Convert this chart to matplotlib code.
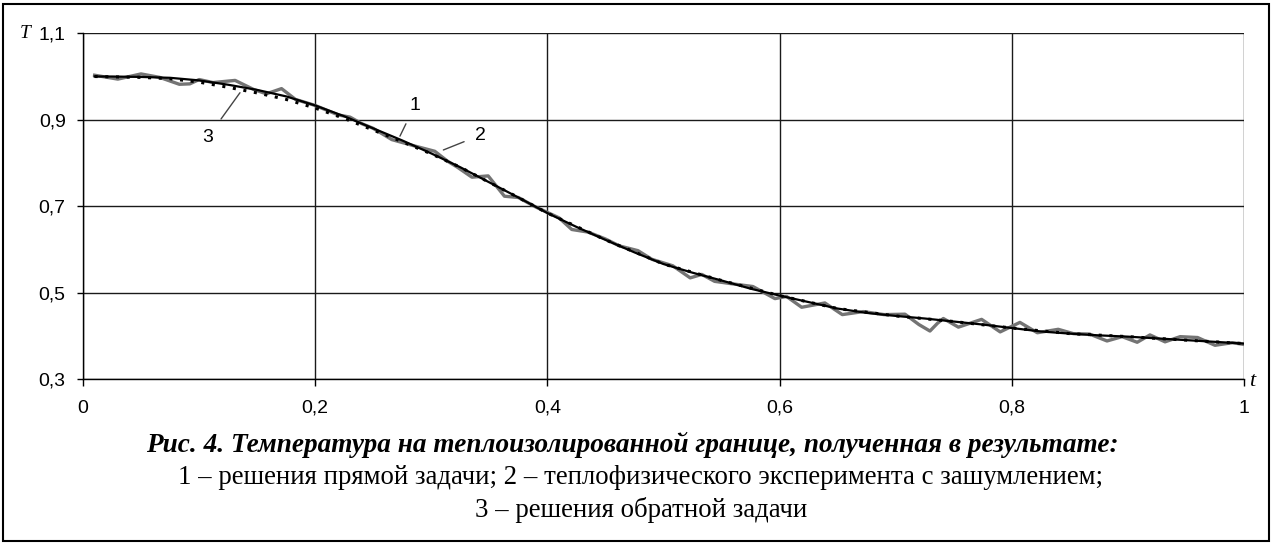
import matplotlib
matplotlib.use("Agg")
import matplotlib.pyplot as plt
from matplotlib.patches import Rectangle

# ---- data ----
t1 = [0.01, 0.025, 0.05, 0.075, 0.1, 0.125, 0.15, 0.175, 0.2, 0.225, 0.25, 0.275, 0.3,
      0.325, 0.35, 0.375, 0.4, 0.425, 0.45, 0.475, 0.5, 0.525, 0.55, 0.575, 0.6, 0.625,
      0.65, 0.675, 0.7, 0.725, 0.75, 0.775, 0.8, 0.825, 0.85, 0.875, 0.9, 0.925, 0.95,
      0.975, 1.0]
T1 = [1.000, 1.000, 0.999, 0.997, 0.991, 0.981, 0.969, 0.954, 0.933, 0.908, 0.880, 0.852,
      0.822, 0.790, 0.755, 0.720, 0.684, 0.652, 0.622, 0.593, 0.566, 0.546, 0.528, 0.509,
      0.493, 0.478, 0.463, 0.453, 0.446, 0.440, 0.433, 0.426, 0.418, 0.410, 0.405, 0.401,
      0.398, 0.394, 0.390, 0.386, 0.382]

t2 = [0.01, 0.03, 0.05, 0.066, 0.083, 0.092, 0.10, 0.112, 0.131, 0.147, 0.158, 0.171,
      0.183, 0.2, 0.22, 0.23, 0.24, 0.25, 0.266, 0.286, 0.303, 0.314, 0.322, 0.335, 0.349,
      0.363, 0.375, 0.39, 0.41, 0.421, 0.435, 0.45, 0.462, 0.478, 0.49, 0.508, 0.523,
      0.533, 0.544, 0.56, 0.577, 0.596, 0.606, 0.619, 0.639, 0.654, 0.672, 0.69, 0.708,
      0.72, 0.7295, 0.736, 0.741, 0.754, 0.774, 0.79, 0.807, 0.822, 0.84, 0.853, 0.867,
      0.882, 0.895, 0.908, 0.919, 0.932, 0.945, 0.96, 0.975, 0.99, 1.0]
T2 = [1.003, 0.994, 1.006, 0.998, 0.982, 0.983, 0.993, 0.986, 0.991, 0.970, 0.960, 0.972,
      0.947, 0.933, 0.911, 0.906, 0.891, 0.880, 0.854, 0.839, 0.827, 0.804, 0.791, 0.767,
      0.770, 0.723, 0.720, 0.698, 0.673, 0.646, 0.640, 0.624, 0.608, 0.597, 0.577, 0.562,
      0.534, 0.542, 0.526, 0.520, 0.514, 0.486, 0.491, 0.466, 0.476, 0.449, 0.456, 0.449,
      0.450, 0.426, 0.411, 0.429, 0.440, 0.420, 0.438, 0.409, 0.431, 0.407, 0.415, 0.405,
      0.404, 0.388, 0.398, 0.385, 0.402, 0.386, 0.398, 0.396, 0.378, 0.384, 0.380]

t3 = [0.01, 0.05, 0.075, 0.1, 0.125, 0.15, 0.175, 0.2, 0.225, 0.25, 0.275, 0.3, 0.325,
      0.35, 0.375, 0.4, 0.45, 0.5, 0.55, 0.6, 0.65, 0.7, 0.75, 0.8, 0.85, 0.9, 0.95, 1.0]
T3 = [1.000, 0.998, 0.995, 0.987, 0.975, 0.962, 0.947, 0.927, 0.903, 0.876, 0.849, 0.821,
      0.790, 0.755, 0.720, 0.684, 0.622, 0.566, 0.528, 0.493, 0.463, 0.446, 0.433, 0.418,
      0.405, 0.398, 0.390, 0.382]

xticks = [0, 0.2, 0.4, 0.6, 0.8, 1.0]
xticklabels = ["0", "0,2", "0,4", "0,6", "0,8", "1"]
yticks = [0.3, 0.5, 0.7, 0.9, 1.1]
yticklabels = ["0,3", "0,5", "0,7", "0,9", "1,1"]

caption1 = "Рис. 4. Температура на теплоизолированной границе, полученная в результате:"
caption2 = "1 – решения прямой задачи; 2 – теплофизического эксперимента с зашумлением;"
caption3 = "3 – решения обратной задачи"

# ---- figure ----
W, H = 1273, 545
fig = plt.figure(figsize=(W / 100, H / 100), dpi=100)
fig.patch.set_facecolor("white")
fig.patches.append(Rectangle((3 / W, 4 / H), 1266 / W, 537 / H, transform=fig.transFigure,
                             fill=False, edgecolor="black", linewidth=1.5))

ax = fig.add_axes([83 / W, 1 - 379 / H, 1161 / W, (379 - 33.3) / H])
ax.set_xlim(0, 1)
ax.set_ylim(0.3, 1.1)

ax.plot(t2, T2, color="#747474", linewidth=2.4, solid_joinstyle="round", zorder=2)
ax.plot(t1, T1, color="black", linewidth=1.6, zorder=3)
ax.plot(t3, T3, color="black", linewidth=2.2, linestyle=(0, (1, 2.5)), zorder=4)

ax.set_xticks(xticks)
ax.set_xticklabels(xticklabels)
ax.set_yticks(yticks)
ax.set_yticklabels(yticklabels)
ax.grid(True, color="#1a1a1a", linewidth=1.0)
ax.set_axisbelow(True)
for s in ["top", "right"]:
    ax.spines[s].set_visible(False)
for s in ["left", "bottom"]:
    ax.spines[s].set_linewidth(1.0)
ax.tick_params(axis="x", direction="out", length=5, width=1, pad=10,
               labelsize=14, labelfontfamily="Liberation Sans")
ax.tick_params(axis="y", direction="out", length=4.5, width=1, pad=8,
               labelsize=14, labelfontfamily="Liberation Sans")

# axis letters
fig.text(25 / W, 1 - 33 / H, "T", fontfamily="Liberation Serif", fontstyle="italic",
         fontsize=14, ha="center", va="center")
fig.text(1252 / W, 1 - 382 / H, "t", fontfamily="Liberation Serif", fontstyle="italic",
         fontsize=16, ha="center", va="center")

# curve labels
ann_kw = dict(fontsize=14, fontfamily="Liberation Sans", ha="center", va="center",
              arrowprops=dict(arrowstyle="-", color="#444444", linewidth=1.0,
                              shrinkA=6, shrinkB=0))
ax.annotate("1", xy=(0.273, 0.862), xytext=(0.286, 0.934), **ann_kw)
ax.annotate("2", xy=(0.3104, 0.830), xytext=(0.342, 0.864), **ann_kw)
ax.annotate("3", xy=(0.1352, 0.9625), xytext=(0.1077, 0.860), **ann_kw)

# caption
fig.text(632 / W, 1 - 445 / H, caption1, fontfamily="Liberation Serif", fontweight="bold",
         fontstyle="italic", fontsize=19.6, ha="center", va="center")
fig.text(641 / W, 1 - 477 / H, caption2, fontfamily="Liberation Serif",
         fontsize=19.3, ha="center", va="center")
fig.text(641 / W, 1 - 510 / H, caption3, fontfamily="Liberation Serif",
         fontsize=19.3, ha="center", va="center")

fig.savefig("out.png", dpi=100, facecolor="white")
